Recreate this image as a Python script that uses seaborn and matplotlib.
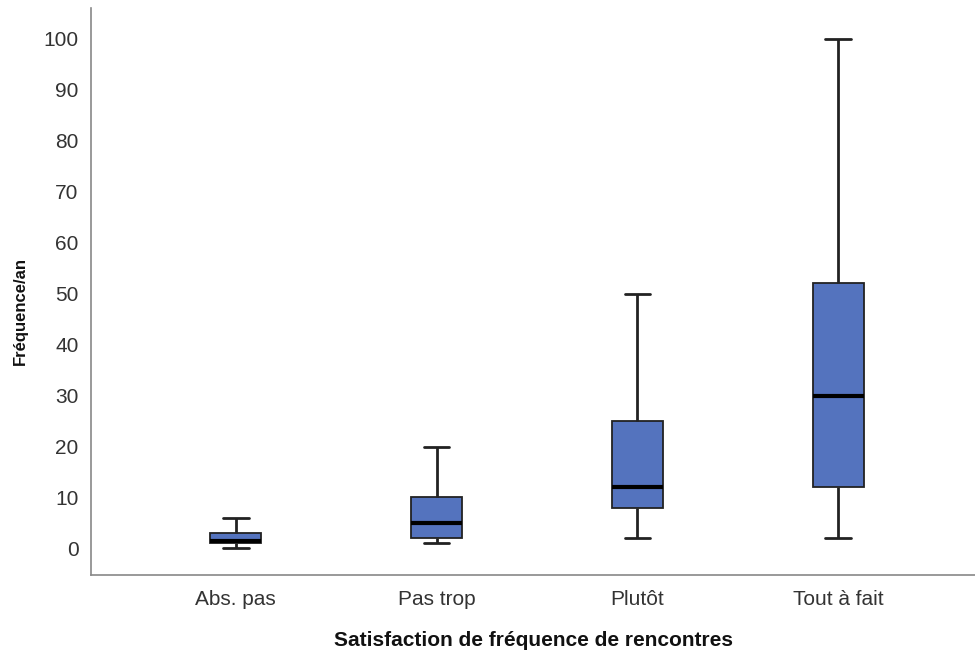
import numpy as np
import pandas as pd
import matplotlib
matplotlib.use("Agg")
import matplotlib.pyplot as plt
import seaborn as sns

# Five-number summaries per satisfaction level (min, Q1, median, Q3, max)
categories = ["Abs. pas", "Pas trop", "Plutôt", "Tout à fait"]
abs_pas = [0, 1, 1.5, 3, 6]
pas_trop = [1, 2, 5, 10, 20]
plutot = [2, 8, 12, 25, 50]
tout_a_fait = [2, 12, 30, 52, 100]
y_ticks = [0, 10, 20, 30, 40, 50, 60, 70, 80, 90, 100]

rows = []
for cat, vals in zip(categories, [abs_pas, pas_trop, plutot, tout_a_fait]):
    for v in vals:
        rows.append({"Satisfaction": cat, "Fréquence": v})
df = pd.DataFrame(rows)

sns.set_theme(style="white")
plt.rcParams["font.family"] = ["Liberation Sans", "DejaVu Sans"]

fig = plt.figure(figsize=(9.75, 6.56), dpi=100)
ax = fig.add_axes([91 / 975, 1 - 575 / 656, (975 - 91) / 975, (575 - 8) / 656])

sns.boxplot(
    data=df, x="Satisfaction", y="Fréquence", order=categories,
    whis=np.inf, width=0.257, color="#5473BE", saturation=1,
    linecolor="black", linewidth=1.3, fliersize=0,
    boxprops=dict(edgecolor="#222222", linewidth=1.3),
    whiskerprops=dict(color="#222222", linewidth=2),
    capprops=dict(color="#222222", linewidth=2),
    medianprops=dict(color="black", linewidth=3),
    ax=ax,
)

ax.set_xlim(-0.72, 3.68)
ax.set_ylim(-5.2, 106)
ax.set_yticks(y_ticks)
ax.tick_params(axis="both", length=0, labelsize=15, colors="#333333")
ax.tick_params(axis="y", pad=9)
ax.tick_params(axis="x", pad=11)
for s in ["top", "right"]:
    ax.spines[s].set_visible(False)
for s in ["left", "bottom"]:
    ax.spines[s].set_color("#888888")
    ax.spines[s].set_linewidth(1.2)

ax.set_xlabel("Satisfaction de fréquence de rencontres", fontsize=15, fontweight="bold",
              labelpad=16, color="#111111")
ax.set_ylabel("Fréquence/an", fontsize=12, fontweight="bold", color="#111111")
ax.yaxis.set_label_coords(-63 / 884, (575 - 311) / 567)

fig.savefig("out.png", dpi=100)
